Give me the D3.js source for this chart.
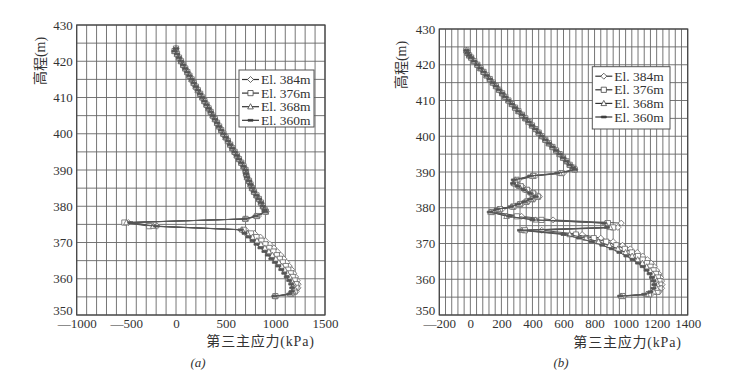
<!DOCTYPE html>
<html>
<head>
<meta charset="utf-8">
<script src="https://cdn.jsdelivr.net/npm/d3@7"></script>
<style>
  body { margin: 0; background: #fff; }
</style>
</head>
<body>
<div id="chart"></div>
<script>
// ---- data ----
const seriesNames = ['El. 384m', 'El. 376m', 'El. 368m', 'El. 360m'];

// chart (a): upper part shared by all four series
const upperElevA = [423.5, 422.8, 422, 421, 420, 419, 418, 417, 416, 415, 414, 413, 412, 411, 410,
  409, 408, 407, 406, 405, 404, 403, 402, 401, 400, 399, 398, 397, 396, 395, 394, 393, 392, 391,
  390, 389, 388, 387, 386, 385, 384, 383, 382, 381, 380, 379];
const upperValA = [0, -15, 10, 30, 50, 72, 93, 114, 135, 157, 178, 199, 220, 243, 265,
  286, 307, 328, 349, 370, 392, 413, 434, 455, 477, 500, 522, 545, 567, 590, 612, 634, 657, 680,
  700, 705, 715, 735, 750, 765, 785, 810, 835, 855, 875, 893];
// chart (a): lower part, one list per series
const lowerElevA = [378.5, 377.3, 376.5, 375.5, 374.5, 373.5, 372.5, 371.5, 370.5, 369.5, 368.5,
  367.5, 366.5, 365.5, 364.5, 363.5, 362.5, 361.5, 360.5, 359.5, 358.5, 357.5, 356.5, 355.8, 355.2];
const lowerA384 = [910, 830, 710, -480, -190, 700, 790, 850, 900, 945, 985, 1020, 1055, 1085, 1115,
  1140, 1165, 1185, 1205, 1220, 1230, 1228, 1210, 1170, 1010];
const lowerA376 = [905, 815, 700, -520, -270, 680, 755, 810, 860, 900, 940, 980, 1015, 1045, 1075,
  1105, 1130, 1155, 1175, 1195, 1210, 1212, 1195, 1160, 1000];
const lowerA368 = [900, 810, 695, -500, -230, 665, 720, 770, 815, 855, 895, 935, 970, 1005, 1035,
  1065, 1095, 1120, 1145, 1165, 1185, 1190, 1180, 1150, 995];
const lowerA360 = [895, 800, 690, -460, -200, 650, 690, 730, 770, 810, 850, 890, 925, 960, 995,
  1030, 1060, 1090, 1115, 1140, 1160, 1170, 1165, 1140, 990];

// chart (b): upper part shared by all four series
const upperElevB = [424, 423.3, 422.6, 422, 421, 420, 419, 418, 417, 416, 415, 414, 413, 412, 411,
  410, 409, 408, 407, 406, 405, 404, 403, 402, 401, 400, 399, 398, 397, 396, 395, 394, 393, 392,
  391.2, 390.7];
const upperValB = [-25, -18, -8, 5, 25, 45, 65, 85, 105, 125, 145, 165, 185, 205, 225,
  245, 267, 288, 310, 332, 354, 375, 397, 418, 440, 460, 483, 506, 529, 552, 575, 597, 618, 640,
  662, 672];
// chart (b): middle part (the zig-zag), one list per series
const midElevB = [389.7, 388.9, 387.8, 386.8, 386, 385, 384, 383.1, 382.4, 381.7, 381, 380.3,
  379.6, 378.8, 377.6, 376.6, 375.7, 374.5, 373.7];
const midB384 = [600, 420, 310, 300, 335, 375, 415, 445, 410, 372, 330, 285, 205, 150, 330, 533, 972, 950, 460];
const midB376 = [587, 404, 298, 287, 325, 365, 404, 436, 400, 362, 320, 276, 190, 137, 300, 458, 886, 920, 351];
const midB368 = [575, 395, 290, 280, 315, 355, 395, 428, 392, 355, 312, 268, 180, 130, 233, 420, 870, 900, 330];
const midB360 = [560, 385, 280, 275, 305, 345, 385, 420, 385, 348, 305, 260, 170, 125, 250, 400, 860, 880, 320];
// chart (b): lower part, one list per series
const lowerElevB = [372.5, 371.5, 370.5, 369.5, 368.5, 367.5, 366.5, 365.5, 364.5, 363.5, 362.5,
  361.5, 360.5, 359.5, 358.5, 357.5, 356.5, 355.8, 355.3];
const lowerB384 = [720, 840, 920, 980, 1030, 1075, 1110, 1140, 1165, 1185, 1200, 1215, 1225, 1232, 1235, 1232, 1215, 1165, 990];
const lowerB376 = [680, 795, 875, 940, 995, 1040, 1080, 1110, 1138, 1160, 1180, 1196, 1208, 1218, 1222, 1220, 1205, 1150, 980];
const lowerB368 = [640, 745, 825, 895, 950, 1000, 1042, 1078, 1108, 1135, 1157, 1175, 1190, 1200, 1205, 1200, 1182, 1135, 972];
const lowerB360 = [600, 700, 780, 850, 910, 960, 1005, 1045, 1080, 1110, 1135, 1155, 1170, 1180, 1185, 1180, 1160, 1120, 965];

const xTicksA = [-1000, -500, 0, 500, 1000, 1500];
const xTicksB = [-200, 0, 200, 400, 600, 800, 1000, 1200, 1400];
const yTicks = [350, 360, 370, 380, 390, 400, 410, 420, 430];

// build the point lists
function pts(elevs, vals) {
  return elevs.map((e, i) => ({ elev: e, val: vals[i] }));
}
const dataA = [lowerA384, lowerA376, lowerA368, lowerA360].map(low =>
  pts(upperElevA, upperValA).concat(pts(lowerElevA, low)));
const dataB = [[midB384, lowerB384], [midB376, lowerB376], [midB368, lowerB368], [midB360, lowerB360]]
  .map(([mid, low]) => pts(upperElevB, upperValB).concat(pts(midElevB, mid), pts(lowerElevB, low)));

const serif = '"Liberation Serif", "Noto Sans CJK SC", serif';
const ink = '#333';

const svg = d3.select('#chart').append('svg')
  .attr('width', 736)
  .attr('height', 377);

const panels = [
  { data: dataA, x0: 76.7, x1: 325, y0: 25, y1: 315, xDomain: [-1000, 1500], gridStep: 100,
    xTicks: xTicksA, legend: [239, 70, 75, 57], yLabel: [40, 61], xLabel: [260.5, 341], tag: '(a)', tagX: 198 },
  { data: dataB, x0: 439.3, x1: 687.7, y0: 29, y1: 315, xDomain: [-200, 1400], gridStep: 40,
    xTicks: xTicksB, legend: [592.3, 66.7, 77.7, 62.3], yLabel: [401.7, 65], xLabel: [627.5, 342], tag: '(b)', tagX: 561 }
];

panels.forEach(p => drawPanel(p));

function drawPanel(p) {
  const x = d3.scaleLinear().domain(p.xDomain).range([p.x0, p.x1]);
  const y = d3.scaleLinear().domain([350, 430]).range([p.y1, p.y0]);
  const g = svg.append('g');

  // grid
  const vLines = d3.range(p.xDomain[0], p.xDomain[1] + 1, p.gridStep);
  g.append('g').selectAll('line').data(vLines).enter().append('line')
    .attr('x1', d => x(d)).attr('x2', d => x(d))
    .attr('y1', p.y0).attr('y2', p.y1)
    .attr('stroke', '#666').attr('stroke-width', 0.9);
  const hLines = d3.range(350, 431, 5);
  g.append('g').selectAll('line').data(hLines).enter().append('line')
    .attr('x1', p.x0).attr('x2', p.x1)
    .attr('y1', d => y(d)).attr('y2', d => y(d))
    .attr('stroke', '#666').attr('stroke-width', 0.9);

  // frame
  g.append('rect')
    .attr('x', p.x0).attr('y', p.y0)
    .attr('width', p.x1 - p.x0).attr('height', p.y1 - p.y0)
    .attr('fill', 'none').attr('stroke', '#444').attr('stroke-width', 1.2);

  // axes (labels only)
  const fmt = d => d < 0 ? '—' + Math.abs(d) : String(d);
  const xAxis = g.append('g')
    .attr('transform', `translate(0,${p.y1})`)
    .call(d3.axisBottom(x).tickValues(p.xTicks).tickSize(0).tickPadding(4).tickFormat(fmt));
  const yAxis = g.append('g')
    .attr('transform', `translate(${p.x0},0)`)
    .call(d3.axisLeft(y).tickValues(yTicks).tickSize(0).tickPadding(4).tickFormat(d3.format('d')));
  [xAxis, yAxis].forEach(a => {
    a.select('.domain').remove();
    a.selectAll('text').attr('font-family', serif).attr('font-size', 13).attr('fill', ink);
  });
  // the lowest y label sits a little higher, clear of the x labels
  yAxis.selectAll('.tick').filter(d => d === 350).select('text').attr('dy', '-0.05em');

  // series
  const line = d3.line().x(d => x(d.val)).y(d => y(d.elev));
  p.data.forEach((s, i) => {
    g.append('path').datum(s)
      .attr('d', line)
      .attr('fill', 'none').attr('stroke', '#555').attr('stroke-width', 1);
    g.append('g').selectAll('path').data(s).enter().append('path')
      .attr('transform', d => `translate(${x(d.val)},${y(d.elev)})`)
      .attr('d', markerPath(i))
      .attr('fill', i === 3 ? '#555' : '#fff')
      .attr('stroke', i === 3 ? '#555' : '#666')
      .attr('stroke-width', 0.8);
  });

  // legend
  const [lx, ly, lw, lh] = p.legend;
  const leg = g.append('g');
  leg.append('rect')
    .attr('x', lx).attr('y', ly).attr('width', lw).attr('height', lh)
    .attr('fill', '#fff').attr('stroke', '#555').attr('stroke-width', 1);
  seriesNames.forEach((name, i) => {
    const ry = ly + 9.5 + i * 13.6;
    leg.append('line')
      .attr('x1', lx + 3).attr('x2', lx + 20)
      .attr('y1', ry).attr('y2', ry)
      .attr('stroke', '#333').attr('stroke-width', 1.2);
    leg.append('path')
      .attr('transform', `translate(${lx + 11.5},${ry})`)
      .attr('d', markerPath(i))
      .attr('fill', i === 3 ? '#333' : '#fff')
      .attr('stroke', '#444').attr('stroke-width', 0.8);
    leg.append('text')
      .attr('x', lx + 22).attr('y', ry)
      .attr('dominant-baseline', 'central')
      .attr('font-family', serif).attr('font-size', 13.5).attr('fill', ink)
      .text(name);
  });

  // axis titles
  g.append('text')
    .attr('transform', `translate(${p.yLabel[0]},${p.yLabel[1]}) rotate(-90)`)
    .attr('text-anchor', 'middle').attr('dominant-baseline', 'central')
    .attr('font-family', serif).attr('font-size', 14).attr('fill', ink)
    .text('高程(m)');
  g.append('text')
    .attr('x', p.xLabel[0]).attr('y', p.xLabel[1])
    .attr('text-anchor', 'middle').attr('dominant-baseline', 'central')
    .attr('font-family', serif).attr('font-size', 14).attr('fill', ink)
    .attr('letter-spacing', 0.8)
    .text('第三主应力(kPa)');
  g.append('text')
    .attr('x', p.tagX).attr('y', 362)
    .attr('text-anchor', 'middle').attr('dominant-baseline', 'central')
    .attr('font-family', serif).attr('font-size', 13).attr('font-style', 'italic').attr('fill', ink)
    .text(p.tag);
}

function markerPath(i) {
  if (i === 0) return 'M0,-3L3,0L0,3L-3,0Z';          // diamond
  if (i === 1) return 'M-2.6,-2.6H2.6V2.6H-2.6Z';     // square
  if (i === 2) return 'M0,-3L2.8,2.2H-2.8Z';           // triangle
  return 'M-2.5,-0.9H2.5V0.9H-2.5Z';                  // dash
}
</script>
</body>
</html>
